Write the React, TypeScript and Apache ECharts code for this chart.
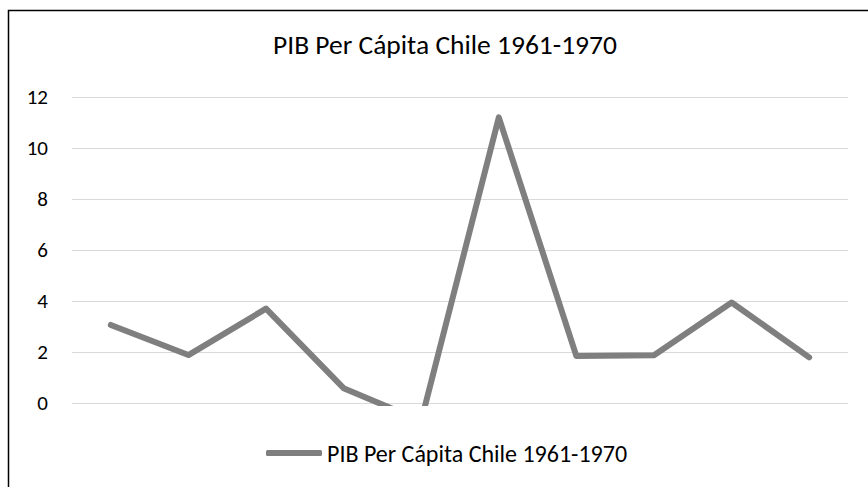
import React, { useEffect, useRef } from "react";
import * as echarts from "echarts";

const TITLE = "PIB Per Cápita Chile 1961-1970";
const SERIES_NAME = "PIB Per Cápita Chile 1961-1970";
const categories = ["1961", "1962", "1963", "1964", "1965", "1966", "1967", "1968", "1969", "1970"];
const values = [3.06, 1.88, 3.7, 0.58, -0.7, 11.2, 1.84, 1.87, 3.94, 1.79];
const yTicks = { min: 0, max: 12, interval: 2 };

const FONT = "Carlito, 'Noto Sans', 'Open Sans', sans-serif";

export default function App() {
  const ref = useRef<HTMLDivElement>(null);
  useEffect(() => {
    if (!ref.current) return;
    const chart = echarts.init(ref.current, null, { renderer: "svg" });
    chart.setOption({
      animation: false,
      backgroundColor: "#ffffff",
      title: {
        text: TITLE,
        left: 440,
        textAlign: "center",
        top: 25,
        padding: 5,
        textStyle: { fontFamily: FONT, fontSize: 27.5, fontWeight: "normal", color: "#000000" },
      },
      legend: {
        left: 266,
        top: 441,
        padding: 0,
        itemWidth: 56,
        itemHeight: 6,
        itemGap: 10,
        textStyle: { fontFamily: FONT, fontSize: 24, color: "#000000" },
        data: [{ name: SERIES_NAME, icon: "roundRect" }],
      },
      grid: { left: 72, right: 20, top: 97, bottom: 84, containLabel: false },
      xAxis: {
        type: "category",
        data: categories,
        boundaryGap: true,
        axisLine: { show: false },
        axisTick: { show: false },
        axisLabel: { show: false },
      },
      yAxis: {
        type: "value",
        min: yTicks.min,
        max: yTicks.max,
        interval: yTicks.interval,
        axisLine: { show: false },
        axisTick: { show: false },
        axisLabel: { fontFamily: FONT, fontSize: 21, color: "#000000", margin: 24 },
        splitLine: { lineStyle: { color: "#d9d9d9", width: 1 } },
      },
      series: [
        {
          name: SERIES_NAME,
          type: "line",
          data: values,
          symbol: "none",
          clip: true,
          itemStyle: { color: "#7f7f7f" },
          lineStyle: { color: "#7f7f7f", width: 6, cap: "round", join: "round" },
        },
      ],
      graphic: [
        {
          type: "rect",
          shape: { x: 8.5, y: 10.5, width: 1000, height: 1000 },
          style: { fill: "none", stroke: "#000000", lineWidth: 1.5 },
          silent: true,
        },
      ],
    });
    return () => chart.dispose();
  }, []);
  return (
    <div
      ref={ref}
      style={{ position: "fixed", left: 0, top: 0, width: 868, height: 487 }}
    />
  );
}
